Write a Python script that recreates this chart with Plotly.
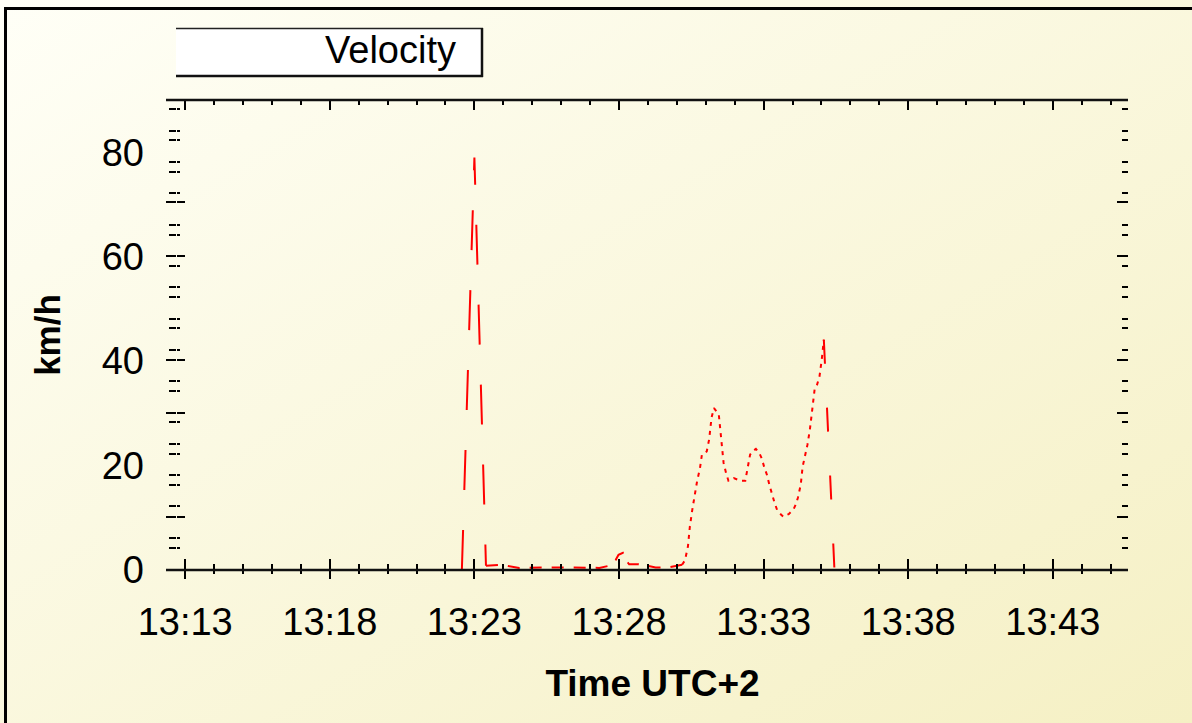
import base64
import plotly.graph_objects as go

# ---------------- data ----------------
day = "2024-01-01"
time_labels = [
    "13:22:34", "13:23:00", "13:23:24", "13:23:55", "13:24:33", "13:25:56", "13:27:19",
    "13:27:39", "13:27:53", "13:27:59", "13:28:08", "13:28:14", "13:28:21", "13:28:41",
    "13:29:16", "13:29:43", "13:30:11", "13:30:17", "13:30:23", "13:30:27", "13:30:32",
    "13:30:37", "13:30:42", "13:30:48", "13:30:52", "13:31:02", "13:31:07", "13:31:12",
    "13:31:17", "13:31:27", "13:31:32", "13:31:37", "13:31:42", "13:31:47", "13:31:58",
    "13:32:12", "13:32:22", "13:32:27", "13:32:32", "13:32:37", "13:32:44", "13:32:51",
    "13:32:56", "13:33:01", "13:33:07", "13:33:12", "13:33:17", "13:33:22", "13:33:28",
    "13:33:32", "13:33:41", "13:33:52", "13:34:02", "13:34:07", "13:34:11", "13:34:17",
    "13:34:21", "13:34:26", "13:34:31", "13:34:36", "13:34:41", "13:34:46", "13:34:51",
    "13:34:56", "13:35:01", "13:35:05", "13:35:27",
]
velocity_kmh = [
    0.0, 79.0, 0.8, 1.0, 0.4, 0.5, 0.4,
    0.8, 1.9, 2.9, 3.3, 1.9, 1.1, 1.1,
    0.5, 0.5, 1.0, 1.9, 4.5, 8.3, 11.5,
    14.4, 17.0, 19.5, 22.1, 22.7, 25.0, 29.2,
    31.0, 29.8, 25.3, 20.5, 18.6, 17.1, 17.6,
    17.1, 17.1, 19.5, 22.1, 22.7, 23.2, 22.4,
    21.4, 19.8, 18.2, 16.3, 14.4, 13.1, 11.5,
    11.0, 10.2, 10.7, 11.6, 12.6, 13.8, 16.3,
    19.8, 21.7, 24.0, 26.9, 31.5, 34.7, 35.5,
    37.1, 40.6, 44.1, 0.0,
]
series_name = "Velocity"
x_title = "Time UTC+2"
y_title = "km/h"
y_label_ticks = [0, 20, 40, 60, 80]
y_long_ticks = [10.2, 30.1, 40.3, 60.1, 70.4]
y_short_ticks = [4.2, 6.1, 12.2, 16.3, 18.1, 22.3, 24.1, 28.3, 34.3, 36.1, 42.1, 46.3,
                 48.1, 52.3, 54.1, 58.3, 64.2, 66.1, 72.1, 76.3, 78.2, 82.3, 84.1, 88.3]
x_range = ["13:12:43", "13:45:36"]
y_range = [0, 90]

times = [f"{day} {t}" for t in time_labels]
xr = [f"{day} {t}" for t in x_range]

# ---------------- layout geometry ----------------
W, H = 1192, 723
ML, MR, MT, MB = 177, 64, 100, 153
PW, PH = W - ML - MR, H - MT - MB


def px(xp):
    return (xp - ML) / PW


def py(yp):
    return (H - MB - yp) / PH


FONT = "Liberation Sans, Arial, sans-serif"
RED = "#ff0000"

# segments with the dash looks seen in the picture
segments = [
    (0, 3, "40px,40px"),
    (2, 17, "12px,10px"),
    (16, 66, "4px,5px"),
    (65, 67, "24px,44px"),
]

fig = go.Figure()
for i, (a, b, dash) in enumerate(segments):
    fig.add_trace(go.Scatter(
        x=times[a:b], y=velocity_kmh[a:b], mode="lines", name=series_name,
        line=dict(color=RED, width=2, dash=dash), showlegend=False,
        hoverinfo="x+y",
    ))

# dummy traces so overlay axes (tick marks only) are drawn
fig.add_trace(go.Scatter(x=[], y=[], xaxis="x2", yaxis="y2", showlegend=False))
fig.add_trace(go.Scatter(x=[], y=[], xaxis="x3", yaxis="y3", showlegend=False))
fig.add_trace(go.Scatter(x=[], y=[], xaxis="x", yaxis="y4", showlegend=False))

tick_font = dict(family=FONT, size=38, color="black")
common_x = dict(type="date", range=xr, showgrid=False, zeroline=False,
                tick0=f"{day} 13:13:00", dtick=300000, automargin=False,
                tickcolor="black", tickwidth=2)
common_y = dict(range=y_range, showgrid=False, zeroline=False, automargin=False)

fig.update_layout(
    width=W, height=H,
    margin=dict(l=ML, r=MR, t=MT, b=MB),
    paper_bgcolor="#fbf8de",
    plot_bgcolor="white",
    showlegend=False,
    xaxis=dict(**common_x, side="bottom", anchor="y",
               tickformat="%H:%M", tickfont=tick_font, ticks="outside", ticklen=8,
               ticklabelstandoff=10,
               minor=dict(dtick=60000, tick0=f"{day} 13:13:00", ticks="outside",
                          ticklen=3, tickwidth=2, tickcolor="black", showgrid=False),
               title=dict(text=f"<b>{x_title}</b>", font=dict(family=FONT, size=37, color="black"),
                          standoff=28)),
    xaxis2=dict(**common_x, overlaying="x", side="bottom", anchor="y",
                showticklabels=False, ticks="inside", ticklen=11,
                minor=dict(dtick=60000, tick0=f"{day} 13:13:00", ticks="inside",
                           ticklen=6, tickwidth=2, tickcolor="black", showgrid=False)),
    xaxis3=dict(**common_x, overlaying="x", side="top", anchor="y",
                showticklabels=False, ticks="inside", ticklen=10,
                minor=dict(dtick=60000, tick0=f"{day} 13:13:00", ticks="inside",
                           ticklen=5, tickwidth=2, tickcolor="black", showgrid=False)),
    yaxis=dict(**common_y, side="left", anchor="x", tickmode="array",
               tickvals=y_label_ticks, ticks="", tickfont=tick_font,
               ticklabelstandoff=32,
               title=dict(text=f"<b>{y_title}</b>", font=dict(family=FONT, size=35, color="black"),
                          standoff=30)),
    yaxis2=dict(**common_y, overlaying="y", side="left", anchor="x",
                showticklabels=False, tickmode="array", tickvals=y_long_ticks,
                ticks="outside", ticklen=10, tickwidth=2, tickcolor="black",
                minor=dict(tickmode="array", tickvals=y_short_ticks, ticks="outside",
                           ticklen=7, tickwidth=2, tickcolor="black", showgrid=False)),
    yaxis3=dict(**common_y, overlaying="y", side="left", anchor="x3",
                showticklabels=False, tickmode="array", tickvals=y_long_ticks,
                ticks="inside", ticklen=8, tickwidth=2, tickcolor="black",
                minor=dict(tickmode="array", tickvals=y_short_ticks, ticks="inside",
                           ticklen=3, tickwidth=2, tickcolor="black", showgrid=False)),
    yaxis4=dict(**common_y, overlaying="y", side="right", anchor="x",
                showticklabels=False, tickmode="array", tickvals=y_long_ticks,
                ticks="inside", ticklen=11, tickwidth=2, tickcolor="black",
                minor=dict(tickmode="array", tickvals=y_short_ticks, ticks="inside",
                           ticklen=6, tickwidth=2, tickcolor="black", showgrid=False)),
)

# background gradient
svg = ('<svg xmlns="http://www.w3.org/2000/svg" width="200" height="120" '
       'preserveAspectRatio="none"><defs><linearGradient id="g" x1="0" y1="0" x2="1" y2="1">'
       '<stop offset="0" stop-color="#fffff7"/><stop offset="1" stop-color="#f5f0c4"/>'
       '</linearGradient></defs><rect width="200" height="120" fill="url(#g)"/></svg>')
src = "data:image/svg+xml;base64," + base64.b64encode(svg.encode()).decode()
fig.add_layout_image(dict(source=src, xref="paper", yref="paper", x=px(0), y=py(0),
                          sizex=W / PW, sizey=H / PH, sizing="stretch",
                          xanchor="left", yanchor="top", layer="below"))

shapes = []
# outer frame (top and left)
shapes.append(dict(type="line", xref="paper", yref="paper", x0=px(6), x1=px(W + 5),
                   y0=py(8.5), y1=py(8.5), line=dict(color="black", width=3)))
shapes.append(dict(type="line", xref="paper", yref="paper", x0=px(5.5), x1=px(5.5),
                   y0=py(7), y1=py(H + 5), line=dict(color="black", width=3)))
# plot top / bottom rules
for yy in (MT, H - MB):
    shapes.append(dict(type="line", xref="paper", yref="paper", x0=px(166), x1=px(W - MR),
                       y0=py(yy), y1=py(yy), line=dict(color="#111111", width=2.5)))
# legend box
shapes.append(dict(type="rect", xref="paper", yref="paper", x0=px(176), x1=px(483),
                   y0=py(77), y1=py(28), fillcolor="white", line=dict(width=0), layer="below"))
shapes.append(dict(type="line", xref="paper", yref="paper", x0=px(176), x1=px(483),
                   y0=py(28.5), y1=py(28.5), line=dict(color="#222", width=1.5)))
shapes.append(dict(type="line", xref="paper", yref="paper", x0=px(482), x1=px(482),
                   y0=py(28), y1=py(77), line=dict(color="#111", width=2.5)))
shapes.append(dict(type="line", xref="paper", yref="paper", x0=px(176), x1=px(483),
                   y0=py(76), y1=py(76), line=dict(color="#111", width=2.5)))
fig.update_layout(shapes=shapes)

fig.add_annotation(text=series_name, xref="paper", yref="paper", x=px(458), y=py(50),
                   xanchor="right", yanchor="middle", showarrow=False,
                   font=dict(family=FONT, size=38, color="black"))

fig.write_html("out.html", config={"displayModeBar": False},
               post_script="document.body.style.margin='0';document.body.style.overflow='hidden';")
